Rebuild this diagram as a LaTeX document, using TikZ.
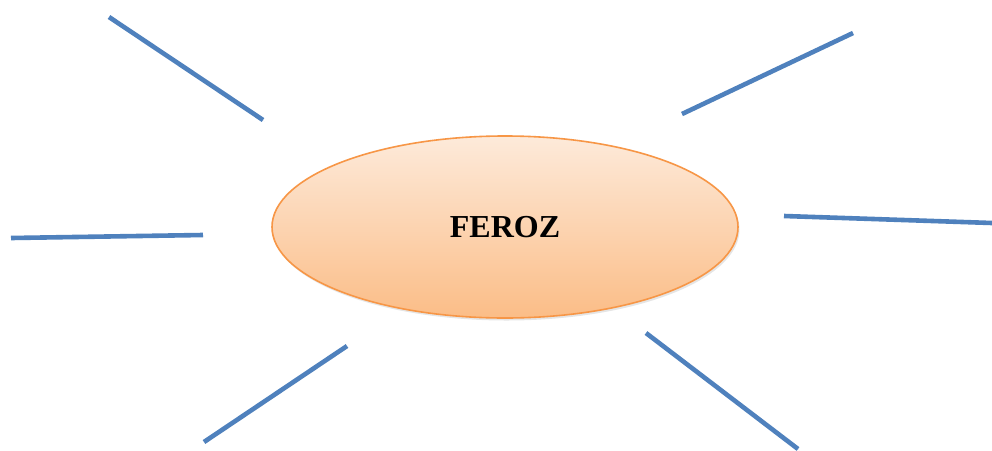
\documentclass[tikz,border=0pt]{standalone}
\usepackage{fontspec}
\setmainfont{Liberation Serif}
\usepackage{tikz}
\usetikzlibrary{shapes.geometric,shadows}

\definecolor{spokeblue}{HTML}{4F81BD}
\definecolor{ovalline}{HTML}{F79646}
\definecolor{ovaltop}{HTML}{FDEADA}
\definecolor{ovalbottom}{HTML}{FBBD87}

\tikzset{
  spoke/.style={draw=spokeblue, line width=4.6pt,
    drop shadow={shadow xshift=1.5pt, shadow yshift=-1.5pt, opacity=0.25}},
  oval/.style={ellipse, draw=ovalline, line width=1.6pt,
    top color=ovaltop, bottom color=ovalbottom,
    minimum width=466pt, minimum height=182pt,
    drop shadow={shadow xshift=1.5pt, shadow yshift=-2.5pt, opacity=0.2},
    font=\fontsize{32}{36}\selectfont\bfseries}
}

\begin{document}
\begin{tikzpicture}[x=1pt,y=-1pt]
    \useasboundingbox (0,0) rectangle (992,450);
    \fill[white] (0,0) rectangle (992,450);

    \node[oval] (feroz) at (505,227) {FEROZ};

    % free ends of the spokes
    \coordinate (nwa) at (109,17);   \coordinate (nwb) at (263,120);
    \coordinate (nea) at (682,114);  \coordinate (neb) at (853,33);
    \coordinate (wa) at (11,238);    \coordinate (wb) at (203,235);
    \coordinate (ea) at (784,216);   \coordinate (eb) at (992,223);
    \coordinate (swa) at (204,442);  \coordinate (swb) at (347,346);
    \coordinate (sea) at (646,333);  \coordinate (seb) at (798,449);

    \foreach \s in {nw,ne,w,e,sw,se}
      \path[spoke] (\s a) -- (\s b);
  \end{tikzpicture}
\end{document}
